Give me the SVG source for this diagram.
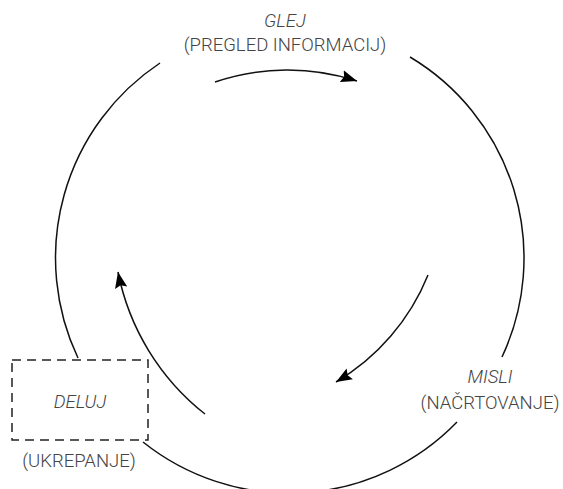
<svg xmlns="http://www.w3.org/2000/svg" width="563" height="489" viewBox="0 0 563 489">
  <style>
    .ring { fill: none; stroke: #111; stroke-width: 1.5; }
    .flow { fill: none; stroke: #111; stroke-width: 1.5; marker-end: url(#head); }
    .box { fill: none; stroke: #222; stroke-width: 1.5; stroke-dasharray: 9 6; }
    .label { font-family: Roboto, "Liberation Sans", sans-serif; font-size: 18.5px; font-weight: 300; fill: #444; text-anchor: middle; }
    .verb { font-style: italic; }
  </style>
  <defs>
    <marker id="head" markerUnits="userSpaceOnUse" markerWidth="18" markerHeight="14" refX="16" refY="7" orient="auto">
      <path d="M0,0.8 L16,7 L0,13.2 L2.5,7 z" fill="#000"/>
    </marker>
  </defs>
  <rect width="563" height="489" fill="#fff"/>

  <g id="connectors">
    <!-- outer cycle, broken where the labels sit -->
    <path class="ring" d="M160,63 A234,234 0 0 0 78,358"/>
    <path class="ring" d="M410,57 A234,234 0 0 1 502,357"/>
    <path class="ring" d="M143,442 A234,234 0 0 0 457,422"/>
    <!-- inner clockwise arrows -->
    <path class="flow" d="M215,82 A225,225 0 0 1 357,81"/>
    <path class="flow" d="M428,275 A220,220 0 0 1 336,382"/>
    <path class="flow" d="M205,414 A240,240 0 0 1 118,272"/>
  </g>

  <g id="glej">
    <text class="label verb" x="285" y="27">GLEJ</text>
    <text class="label" x="285" y="51">(PREGLED INFORMACIJ)</text>
  </g>

  <g id="misli">
    <text class="label verb" x="490" y="383">MISLI</text>
    <text class="label" x="490" y="409">(NAČRTOVANJE)</text>
  </g>

  <g id="deluj">
    <rect class="box" x="12" y="360" width="136" height="80"/>
    <text class="label verb" x="80" y="408">DELUJ</text>
    <text class="label" x="79" y="467">(UKREPANJE)</text>
  </g>
</svg>
